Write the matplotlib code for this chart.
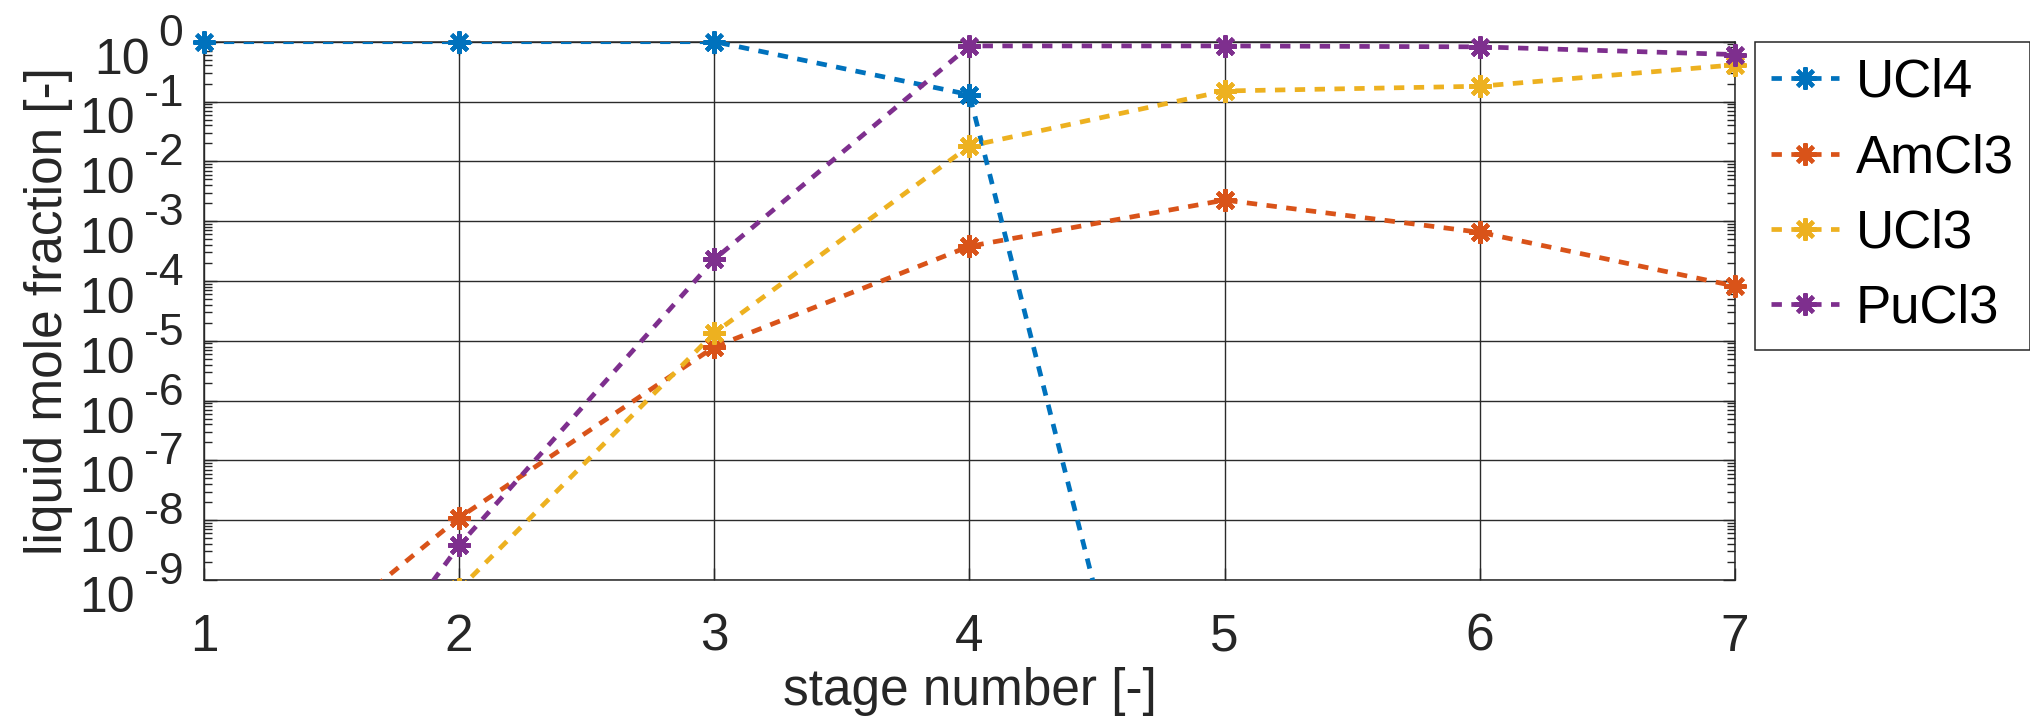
#!/usr/bin/env python3
"""Liquid mole fraction of the chlorides along the stages (log scale)."""

import numpy as np
import matplotlib
matplotlib.use("Agg")
import matplotlib.pyplot as plt
from matplotlib.ticker import LogLocator, NullFormatter

plt.rcParams['font.family'] = ['Liberation Sans', 'DejaVu Sans']

# data (values below 1e-9 are off-scale estimates)
stages = [1, 2, 3, 4, 5, 6, 7]
ucl4 = [1.0, 1.0, 1.0, 0.13, 2e-18, 1e-30, 1e-40]
amcl3 = [3.5e-12, 1.1e-8, 7.9e-6, 3.8e-4, 2.25e-3, 6.5e-4, 8.2e-5]
ucl3 = [1e-14, 7e-10, 1.35e-5, 0.018, 0.15, 0.18, 0.41]
pucl3 = [6e-15, 3.8e-9, 2.3e-4, 0.85, 0.85, 0.82, 0.61]

series = [("UCl4", ucl4), ("AmCl3", amcl3), ("UCl3", ucl3), ("PuCl3", pucl3)]
colors = ["#0072BD", "#D95319", "#EDB120", "#7E2F8E"]

decades = list(range(-9, 1))
ymin, ymax = 1e-9, 1.0

txt = "#262626"
mk = dict(marker=(8, 2, 0), markersize=16, markeredgewidth=3.0)

fig = plt.figure(figsize=(20.31, 7.24), dpi=100)
ax = fig.add_axes([0.10044, 0.19890, 0.75382, 0.74351])

for (name, vals), c in zip(series, colors):
    vals = np.array(vals)
    ax.plot(stages, vals, color=c, lw=3.4, linestyle=(0, (2.2, 2.0)),
            markeredgecolor=c, markerfacecolor=c, label=name, zorder=3, **mk)
    # markers at the frame edge are not clipped
    vis = np.ma.masked_where((vals < ymin) | (vals > ymax), vals)
    ax.plot(stages, vis, linestyle="none", color=c, clip_on=False, zorder=4, **mk)

ax.set_yscale("log")
ax.set_xlim(1, 7)
ax.set_ylim(ymin, ymax)
ax.set_xticks(stages)
ax.set_xticklabels([str(s) for s in stages])
ax.set_yticks([10.0 ** k for k in decades])
ax.set_yticklabels([])
ax.yaxis.set_minor_locator(LogLocator(base=10, subs=np.arange(2, 10), numticks=100))
ax.yaxis.set_minor_formatter(NullFormatter())

ax.tick_params(axis="both", which="both", direction="in", top=True, right=True,
               color=txt)
ax.tick_params(axis="x", which="major", labelsize=37, pad=23.5, labelcolor=txt,
               length=9, width=1.0)
ax.tick_params(axis="y", which="major", length=9, width=1.0)
ax.tick_params(axis="y", which="minor", length=5.6, width=1.0)

ax.grid(True, which="major", color="#2b2b2b", lw=1.0)
for sp in ax.spines.values():
    sp.set_color(txt)
    sp.set_linewidth(1.1)

# MATLAB-style 10^k tick labels: big exponent, base set lower-left
for k in decades:
    e = ax.annotate(str(k), xy=(0, 10.0 ** k), xycoords=("axes fraction", "data"),
                    xytext=(-15, -2.9), textcoords="offset points",
                    ha="right", va="baseline", fontsize=32, color=txt,
                    annotation_clip=False)
    ax.annotate("10", xy=(0, 10.0 ** k), xycoords=(e, "data"),
                xytext=(-6.5, -23), textcoords="offset points",
                ha="right", va="baseline", fontsize=36, color=txt,
                annotation_clip=False)

ax.set_xlabel("stage number [-]", fontsize=37, color=txt)
ax.xaxis.set_label_coords(0.5, -0.162)
ax.set_ylabel("liquid mole fraction [-]", fontsize=37, color=txt)
ax.yaxis.set_label_coords(-0.0856, 0.5)

leg = ax.legend(loc="upper left", bbox_to_anchor=(1755 / 2031, 1 - 42 / 724),
                bbox_transform=fig.transFigure, borderaxespad=0, fontsize=38,
                handlelength=1.29, handletextpad=0.32, labelspacing=0.48,
                borderpad=0.3, fancybox=False, framealpha=1, edgecolor=txt)
leg.get_frame().set_linewidth(1.1)

fig.savefig("out.png", dpi=100)
